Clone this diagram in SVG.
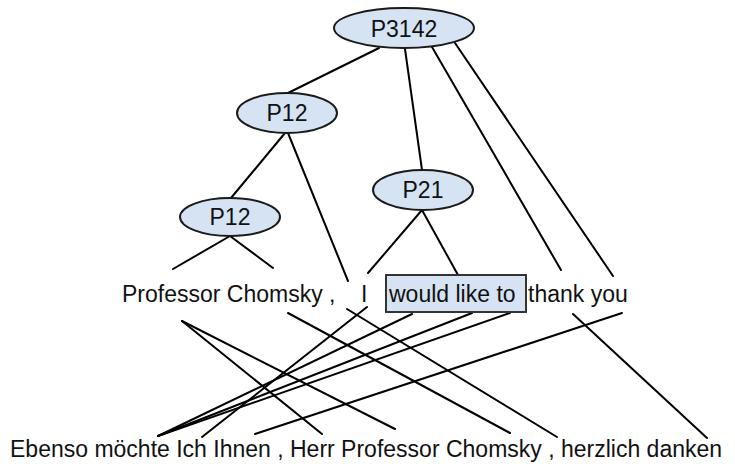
<svg xmlns="http://www.w3.org/2000/svg" width="735" height="464" viewBox="0 0 735 464">
<style>
.node{fill:#d5e3f2;stroke:#1a1a1a;stroke-width:2}
.box{fill:#d5e3f2;stroke:#333;stroke-width:2}
.lbl{font-family:"Liberation Sans",Arial,sans-serif;font-size:23px;fill:#111}
.mid{text-anchor:middle}
.edges line{stroke:#000;stroke-width:2;stroke-linecap:round}
</style>
<rect width="735" height="464" fill="#fff"/>
<g class="edges" id="connectors">
<line x1="379" y1="48" x2="288" y2="93"/>
<line x1="405" y1="49" x2="422" y2="170"/>
<line x1="432" y1="47" x2="561" y2="270"/>
<line x1="455" y1="43" x2="613" y2="276"/>
<line x1="285" y1="133" x2="231" y2="198"/>
<line x1="288" y1="133" x2="348" y2="281"/>
<line x1="230" y1="236" x2="173" y2="269"/>
<line x1="230" y1="236" x2="273" y2="268"/>
<line x1="422" y1="210" x2="368" y2="273"/>
<line x1="422" y1="210" x2="458" y2="275"/>
<line x1="182" y1="321" x2="322" y2="434"/>
<line x1="182" y1="321" x2="395" y2="429"/>
<line x1="288" y1="313" x2="510" y2="433"/>
<line x1="347" y1="309" x2="557" y2="437"/>
<line x1="367" y1="307" x2="202" y2="437"/>
<line x1="412" y1="314" x2="158" y2="436"/>
<line x1="472" y1="313" x2="158" y2="436"/>
<line x1="510" y1="313" x2="158" y2="436"/>
<line x1="622" y1="313" x2="255" y2="434"/>
<line x1="573" y1="314" x2="707" y2="438"/>
</g>
<g id="n-P3142">
<ellipse class="node" cx="404" cy="28" rx="70" ry="20"/>
<text class="lbl mid" x="404" y="37">P3142</text>
</g>
<g id="n-P12a">
<ellipse class="node" cx="287" cy="113" rx="50" ry="20"/>
<text class="lbl mid" x="287" y="121">P12</text>
</g>
<g id="n-P12b">
<ellipse class="node" cx="230" cy="217" rx="50" ry="19"/>
<text class="lbl mid" x="230" y="225">P12</text>
</g>
<g id="n-P21">
<ellipse class="node" cx="423" cy="190" rx="50" ry="20"/>
<text class="lbl mid" x="423" y="198">P21</text>
</g>
<g id="src-words">
<text class="lbl" x="122" y="302">Professor Chomsky ,</text>
<text class="lbl" x="361" y="302">I</text>
<g id="n-would">
<rect class="box" x="386" y="275" width="140" height="37"/>
<text class="lbl" x="389" y="302">would like to</text>
</g>
<text class="lbl" x="528" y="302">thank you</text>
</g>
<g id="tgt-words">
<text class="lbl" x="10" y="457">Ebenso möchte Ich Ihnen , Herr Professor Chomsky , herzlich danken</text>
</g>
</svg>
